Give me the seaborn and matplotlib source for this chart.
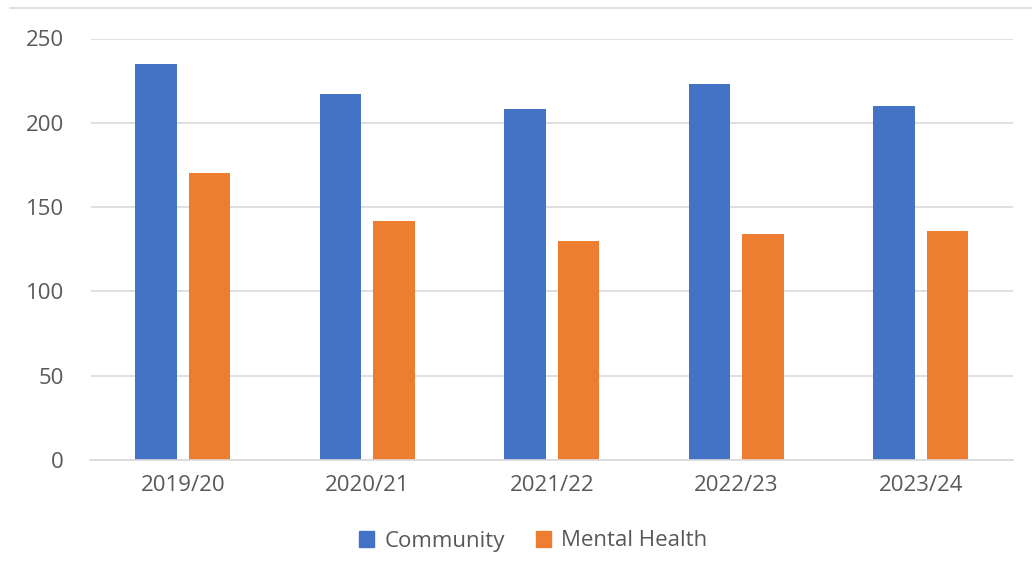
import matplotlib
matplotlib.use("Agg")
import matplotlib.pyplot as plt
from matplotlib.lines import Line2D
import seaborn as sns
import pandas as pd

years = ["2019/20", "2020/21", "2021/22", "2022/23", "2023/24"]
community = [235, 217, 208, 223, 210]
mental_health = [170, 142, 130, 134, 136]
series_names = ["Community", "Mental Health"]
colors = ["#4472C4", "#ED7D31"]
yticks = [0, 50, 100, 150, 200, 250]

df = pd.DataFrame({
    "Year": years * 2,
    "Value": community + mental_health,
    "Series": [series_names[0]] * len(years) + [series_names[1]] * len(years),
})

sns.set_theme(style="white")
plt.rcParams["font.family"] = ["Open Sans", "DejaVu Sans"]

fig = plt.figure(figsize=(10.32, 5.79), dpi=100)
W, H = 1032, 579
left, right, top, bottom = 90.5, 1013, 38.5, 460
ax = fig.add_axes([left / W, 1 - bottom / H, (right - left) / W, (bottom - top) / H])

sns.barplot(data=df, x="Year", y="Value", hue="Series", palette=colors,
            width=0.58, gap=0.22, ax=ax, legend=False, saturation=1,
            order=years, hue_order=series_names, edgecolor="none")

ax.set_ylim(0, 250)
ax.set_xlim(-0.5, len(years) - 0.5)
ax.set_yticks(yticks)
ax.set_yticklabels([str(v) for v in yticks])
ax.yaxis.grid(True, color="#D9D9D9", linewidth=1.2)
ax.set_axisbelow(True)
for s in ["top", "right", "left"]:
    ax.spines[s].set_visible(False)
ax.spines["bottom"].set_color("#D9D9D9")
ax.spines["bottom"].set_linewidth(1.2)
ax.tick_params(axis="y", length=0, pad=19, labelsize=16, labelcolor="#595959")
ax.tick_params(axis="x", length=0, pad=11, labelsize=16, labelcolor="#595959")
ax.set_xlabel("")
ax.set_ylabel("")

handles = [plt.Rectangle((0, 0), 1, 1, color=c) for c in colors]
fig.legend(handles, series_names, loc="center", bbox_to_anchor=(533 / W, 1 - 541 / H),
           ncol=2, frameon=False, fontsize=16, labelcolor="#595959",
           handlelength=0.7, handleheight=0.7, handletextpad=0.45, columnspacing=1.4)

fig.add_artist(Line2D([10 / W, 1.0], [1 - 8 / H, 1 - 8 / H], color="#D9D9D9", linewidth=1.2))

fig.savefig("out.png", dpi=100)
